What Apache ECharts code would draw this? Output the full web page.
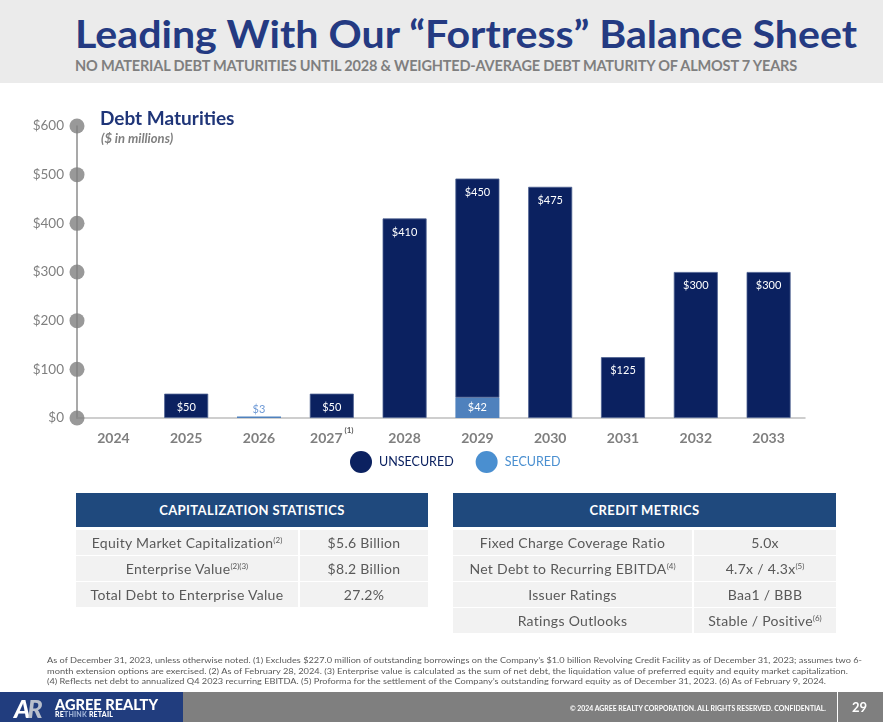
<!DOCTYPE html>
<html>
<head>
<meta charset="utf-8">
<script src="https://cdn.jsdelivr.net/npm/echarts@6/dist/echarts.min.js"></script>
<style>
  html, body { margin: 0; padding: 0; background: #fff; }
  body { width: 883px; height: 722px; position: relative; overflow: hidden; font-family: Lato, "Noto Sans", sans-serif; }
  #chart { position: absolute; left: 0; top: 0; width: 883px; height: 722px; }
  .abs { position: absolute; white-space: nowrap; }
  .fit { transform-origin: 0 0; }
  #head { left: 0; top: 0; width: 883px; height: 83px; background: #ebebeb; }
  #title { left: 75px; top: 10px; font-size: 38px; font-weight: 700; color: #243a82; }
  #subtitle { left: 75px; top: 56px; font-size: 15px; font-weight: 700; color: #7f7f7f; letter-spacing: -0.2px; }
  .th { background: #1f497d; color: #fff; font-weight: 700; font-size: 13px; letter-spacing: 0.4px; text-align: center; line-height: 34px; height: 34px; }
  .td { background: #f2f2f2; color: #595959; font-size: 14px; letter-spacing: 0.3px; text-align: center; line-height: 25px; height: 25px; }
  .td sup { font-size: 8px; vertical-align: 5px; line-height: 0; letter-spacing: 0; }
  .note { left: 47px; font-size: 8px; color: #595959; }
  #foot { left: 0; top: 692px; width: 883px; height: 30px; background: #7f7f7f; }
  #logo { left: 0; top: 692px; width: 183px; height: 30px; background: #213d7e; }
</style>
</head>
<body>
<div id="head" class="abs"></div>
<div id="title" class="abs fit" data-w="782">Leading With Our “Fortress” Balance Sheet</div>
<div id="subtitle" class="abs fit" data-w="722">NO MATERIAL DEBT MATURITIES UNTIL 2028 &amp; WEIGHTED-AVERAGE DEBT MATURITY OF ALMOST 7 YEARS</div>
<div id="chart"></div>
<div id="tables"></div>
<div id="notes"></div>
<div id="foot" class="abs"></div>
<div id="logo" class="abs"></div>
<div class="abs" style="left:14px;top:693px;font-size:25px;font-weight:900;color:#fff;letter-spacing:-3px;font-style:italic;">A<span style="color:#b8bfcc">R</span></div>
<div class="abs fit" data-w="103" style="left:55px;top:695px;font-size:15px;font-weight:900;color:#fff;">AGREE REALTY</div>
<div class="abs" style="left:55px;top:710px;font-size:7px;font-weight:900;color:#fff;letter-spacing:0.2px;">RE<span style="color:#9fb2d6">THINK</span> RETAIL</div>
<div class="abs fit" data-w="256" style="left:570px;top:703px;font-size:8px;font-weight:700;color:#fff;">© 2024 AGREE REALTY CORPORATION. ALL RIGHTS RESERVED. CONFIDENTIAL.</div>
<div class="abs" style="left:837px;top:692px;width:1px;height:30px;background:#fff;"></div>
<div class="abs" style="left:852px;top:699px;font-size:13px;font-weight:700;color:#fff;">29</div>

<script>
// Debt maturities by year, $ millions
const years = ["2024", "2025", "2026", "2027", "2028", "2029", "2030", "2031", "2032", "2033"];
const yearNotes = { "2027": "(1)" };
const unsecured = [null, 50, null, 50, 410, 450, 475, 125, 300, 300];
const secured = [null, null, 3, null, null, 42, null, null, null, null];
const yTicks = [0, 100, 200, 300, 400, 500, 600];

// Side tables
const capHeader = "CAPITALIZATION STATISTICS";
const capRows = [
  ["Equity Market Capitalization", "(2)", "$5.6 Billion", ""],
  ["Enterprise Value", "(2)(3)", "$8.2 Billion", ""],
  ["Total Debt to Enterprise Value", "", "27.2%", ""],
];
const creditHeader = "CREDIT METRICS";
const creditRows = [
  ["Fixed Charge Coverage Ratio", "", "5.0x", ""],
  ["Net Debt to Recurring EBITDA", "(4)", "4.7x / 4.3x", "(5)"],
  ["Issuer Ratings", "", "Baa1 / BBB", ""],
  ["Ratings Outlooks", "", "Stable / Positive", "(6)"],
];
const footnotes = [
  "As of December 31, 2023, unless otherwise noted. (1) Excludes $227.0 million of outstanding borrowings on the Company’s $1.0 billion Revolving Credit Facility as of December 31, 2023; assumes two 6-",
  "month extension options are exercised. (2) As of February 28, 2024. (3) Enterprise value is calculated as the sum of net debt, the liquidation value of preferred equity and equity market capitalization.",
  "(4) Reflects net debt to annualized Q4 2023 recurring EBITDA. (5) Proforma for the settlement of the Company’s outstanding forward equity as of December 31, 2023. (6) As of February 9, 2024.",
];

const NAVY = "#0b2160";
const BLUE = "#4f81bd";
const LEGEND_BLUE = "#4a8fd0";
const GREY = "#7f7f7f";
const FONT = "Lato, 'Noto Sans', sans-serif";

// ---- tables (plain DOM) ----
function buildTable(left, colW, header, rows) {
  const host = document.getElementById("tables");
  const total = colW[0] + colW[1];
  const h = document.createElement("div");
  h.className = "abs th";
  Object.assign(h.style, { left: left + "px", top: "493px", width: total + "px" });
  h.textContent = header;
  host.appendChild(h);
  rows.forEach((r, i) => {
    const top = 530 + i * 26;
    const a = document.createElement("div");
    a.className = "abs td";
    Object.assign(a.style, { left: left + "px", top: top + "px", width: (colW[0] - 2) + "px" });
    a.innerHTML = r[0] + (r[1] ? `<sup>${r[1]}</sup>` : "");
    const b = document.createElement("div");
    b.className = "abs td";
    Object.assign(b.style, { left: (left + colW[0]) + "px", top: top + "px", width: colW[1] + "px" });
    b.innerHTML = r[2] + (r[3] ? `<sup>${r[3]}</sup>` : "");
    host.appendChild(a);
    host.appendChild(b);
  });
}
buildTable(76, [224, 128], capHeader, capRows);
buildTable(453, [241, 142], creditHeader, creditRows);

const noteWidths = [815, 801, 779];
footnotes.forEach((t, i) => {
  const d = document.createElement("div");
  d.className = "abs note fit";
  d.style.top = (655 + i * 10.5) + "px";
  d.dataset.w = noteWidths[i];
  d.textContent = t;
  document.getElementById("notes").appendChild(d);
});

// squeeze/stretch text blocks to the measured widths of the slide
document.querySelectorAll(".fit").forEach((el) => {
  const w = el.getBoundingClientRect().width;
  const target = +el.dataset.w;
  if (w > 0 && target) el.style.transform = `scaleX(${target / w})`;
});

// ---- chart ----
const chart = echarts.init(document.getElementById("chart"), null, { renderer: "canvas" });

const securedData = secured.map((v) => {
  if (v == null) return null;
  // thin bars get their label above, in the bar colour
  const small = v < 15;
  return {
    value: v,
    label: small
      ? { show: true, position: "top", distance: 2, color: "#6f9ad6" }
      : { show: true, position: "inside", color: "#fff" },
  };
});

chart.setOption({
  animation: false,
  textStyle: { fontFamily: FONT },
  title: [
    {
      text: "Debt Maturities",
      left: 95, top: 104,
      textStyle: { color: "#1f3578", fontSize: 19, fontWeight: 700, fontFamily: FONT },
    },
    {
      text: "($ in millions)",
      left: 96, top: 127,
      textStyle: { color: GREY, fontSize: 13, fontWeight: 700, fontStyle: "italic", fontFamily: FONT },
    },
  ],
  legend: {
    left: 345, top: 446,
    itemWidth: 22, itemHeight: 22, itemGap: 22,
    icon: "circle",
    data: [
      { name: "UNSECURED", textStyle: { color: NAVY }, itemStyle: { color: NAVY, borderWidth: 0 } },
      { name: "SECURED", textStyle: { color: LEGEND_BLUE }, itemStyle: { color: LEGEND_BLUE } },
    ],
    textStyle: { fontSize: 12.5, fontFamily: FONT, padding: [0, 0, 0, 2] },
  },
  grid: { left: 77, right: 78, top: 126, bottom: 304 },
  xAxis: [
    {
      type: "category",
      data: years,
      axisLine: { lineStyle: { color: "#bfbfbf", width: 1.5 } },
      axisTick: { show: false },
      axisLabel: {
        interval: 0,
        margin: 8,
        formatter: (v) => `{y|${v}}` + (yearNotes[v] ? `{sup|${yearNotes[v]}}` : ""),
        rich: {
          y: { color: GREY, fontSize: 14, fontWeight: 700, lineHeight: 24, fontFamily: FONT },
          sup: { fontSize: 8, fontWeight: 700, color: "#595959", lineHeight: 8, verticalAlign: "top", padding: [0, 0, 0, 2], fontFamily: FONT },
        },
      },
    },
    { type: "value", min: 0, max: 1, show: false },
  ],
  yAxis: {
    type: "value",
    min: 0, max: 600, interval: 100,
    axisLine: { show: true, lineStyle: { color: "#8c8c8c", width: 1.5 } },
    axisTick: { show: false },
    splitLine: { show: false },
    axisLabel: { color: GREY, fontSize: 13.5, margin: 13, formatter: (v) => "$" + v },
  },
  series: [
    {
      name: "SECURED",
      type: "bar",
      stack: "debt",
      barWidth: 44,
      data: securedData,
      itemStyle: { color: BLUE },
      label: { fontSize: 11, formatter: (p) => "$" + p.value },
    },
    {
      name: "UNSECURED",
      type: "bar",
      stack: "debt",
      barWidth: 44,
      data: unsecured,
      itemStyle: { color: NAVY, borderColor: "#4d6190", borderWidth: 0.8 },
      label: {
        show: true, position: "insideTop", distance: 8,
        color: "#fff", fontSize: 11,
        formatter: (p) => "$" + p.value,
      },
    },
    {
      // dots that sit on the value axis at each tick
      type: "scatter",
      xAxisIndex: 1,
      data: yTicks.map((t) => [0, t]),
      symbolSize: 15,
      clip: false,
      silent: true,
      itemStyle: { color: "#808080" },
      z: 5,
      legendHoverLink: false,
    },
  ],
});
window.addEventListener("resize", () => chart.resize());
</script>
</body>
</html>
